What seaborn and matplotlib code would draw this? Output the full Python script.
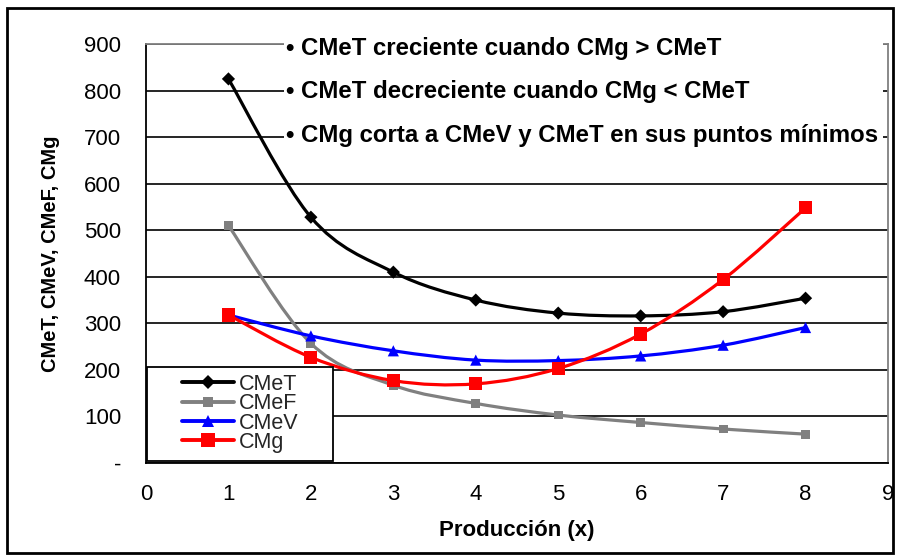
import numpy as np
import pandas as pd
import matplotlib
matplotlib.use("Agg")
import matplotlib.pyplot as plt
import seaborn as sns
from matplotlib.path import Path
from matplotlib.patches import PathPatch, Rectangle
from matplotlib.lines import Line2D

# Data
produccion = [1, 2, 3, 4, 5, 6, 7, 8]
cmet = [825, 528, 410, 350, 322, 316, 325, 354]
cmef = [510, 257, 167, 128, 103, 87, 73, 62]
cmev = [318, 273, 241, 221, 220, 230, 253, 291]
cmg = [318, 227, 177, 170, 203, 277, 394, 548]
series_names = ["CMeT", "CMeF", "CMeV", "CMg"]
y_ticks = [0, 100, 200, 300, 400, 500, 600, 700, 800, 900]
y_tick_labels = ["-", "100", "200", "300", "400", "500", "600", "700", "800", "900"]
notas = ["• CMeT creciente cuando CMg > CMeT",
         "• CMeT decreciente cuando CMg < CMeT",
         "• CMg corta a CMeV y CMeT en sus puntos mínimos"]
notas_y = [891, 797, 704]

colors = {"CMeT": "#000000", "CMeF": "#808080", "CMeV": "#0000FF", "CMg": "#FF0000"}
markers = {"CMeT": "D", "CMeF": "s", "CMeV": "^", "CMg": "s"}
sizes = {"CMeT": 45, "CMeF": 40, "CMeV": 65, "CMg": 90}

sns.set_theme(style="white")
plt.rcParams["font.family"] = ["Liberation Sans", "DejaVu Sans"]

df = pd.DataFrame({
    "x": produccion * 4,
    "y": cmet + cmef + cmev + cmg,
    "serie": sum([[n] * len(produccion) for n in series_names], []),
})


# Excel-like smoothed line (cubic Bezier through the points)
def smooth_path(xs, ys):
    pts = np.column_stack([xs, ys]).astype(float)
    n = len(pts)
    verts = [pts[0]]
    codes = [Path.MOVETO]
    for i in range(n - 1):
        p0 = pts[i - 1] if i > 0 else pts[i]
        p1 = pts[i]
        p2 = pts[i + 1]
        p3 = pts[i + 2] if i + 2 < n else pts[i + 1]
        verts += [p1 + (p2 - p0) / 6, p2 - (p3 - p1) / 6, p2]
        codes += [Path.CURVE4] * 3
    return Path(verts, codes)


fig = plt.figure(figsize=(8.98, 5.58), dpi=100)
ax = fig.add_axes([146 / 898, 1 - 463 / 558, (888 - 146) / 898, (463 - 44) / 558])

for name, vals in zip(series_names, [cmet, cmef, cmev, cmg]):
    ax.add_patch(PathPatch(smooth_path(produccion, vals), fill=False,
                           edgecolor=colors[name], lw=2.3, zorder=2,
                           capstyle="round", joinstyle="round"))

sns.scatterplot(data=df, x="x", y="y", hue="serie", style="serie", size="serie",
                palette=colors, markers=markers, sizes=sizes, linewidth=0,
                ax=ax, legend=False, zorder=3)

ax.set_xlim(0, 9)
ax.set_ylim(0, 900)
ax.set_xticks(range(10))
ax.set_yticks(y_ticks)
ax.set_yticklabels(y_tick_labels)
ax.yaxis.grid(True, color="black", lw=1.2)
ax.set_axisbelow(True)

for s in ["left", "bottom"]:
    ax.spines[s].set_color("black")
    ax.spines[s].set_linewidth(1.3)
for s in ["top", "right"]:
    ax.spines[s].set_color("#808080")
    ax.spines[s].set_linewidth(1.3)

ax.tick_params(axis="both", direction="out", length=6, width=1.2, color="black",
               labelsize=16, labelcolor="black")
ax.tick_params(axis="y", pad=12)
ax.tick_params(axis="x", pad=9)

ax.set_xlabel("Producción (x)", fontsize=16, fontweight="bold", color="black")
ax.set_ylabel("CMeT, CMeV, CMeF, CMg", fontsize=14.5, fontweight="bold", color="black")
ax.xaxis.set_label_coords(0.5, -0.162)
ax.xaxis.label.set_va("center")
ax.yaxis.set_label_coords(-0.129, 0.5)
ax.yaxis.label.set_va("center")

# white block behind the notes (hides the gridlines there)
ax.add_patch(Rectangle((1.67, 680), 8.94 - 1.67, 240, facecolor="white",
                       edgecolor="none", zorder=4, clip_on=False))
for txt, yv in zip(notas, notas_y):
    ax.text(1.70, yv, txt, fontsize=17.3, fontweight="bold", ha="left", va="center",
            color="black", zorder=5, clip_on=False)

# legend with its own frame
handles = [Line2D([], [], color=colors[n], lw=2.8, marker=markers[n],
                  markersize={"CMeT": 7.5, "CMeF": 7, "CMeV": 8.5, "CMg": 9.5}[n],
                  markeredgewidth=0) for n in series_names]
ax.add_patch(Rectangle((0.0015, 0.004), (333 - 147) / 742, (461 - 367) / 419,
                       transform=ax.transAxes, facecolor="white", edgecolor="black",
                       lw=1.3, zorder=6))
leg = ax.legend(handles, series_names, loc="lower left",
                bbox_to_anchor=((182 - 146) / 742 - 0.016, -0.004), frameon=False,
                fontsize=15.5, handlelength=2.4, handletextpad=0.25,
                labelspacing=-0.08, borderpad=0.25, borderaxespad=0.3)
leg.set_zorder(7)

fig.add_artist(Rectangle((7 / 898, 1 - 553 / 558), 886 / 898, 545 / 558,
                         transform=fig.transFigure, fill=False,
                         edgecolor="black", lw=2))

fig.savefig("out.png", dpi=100)
